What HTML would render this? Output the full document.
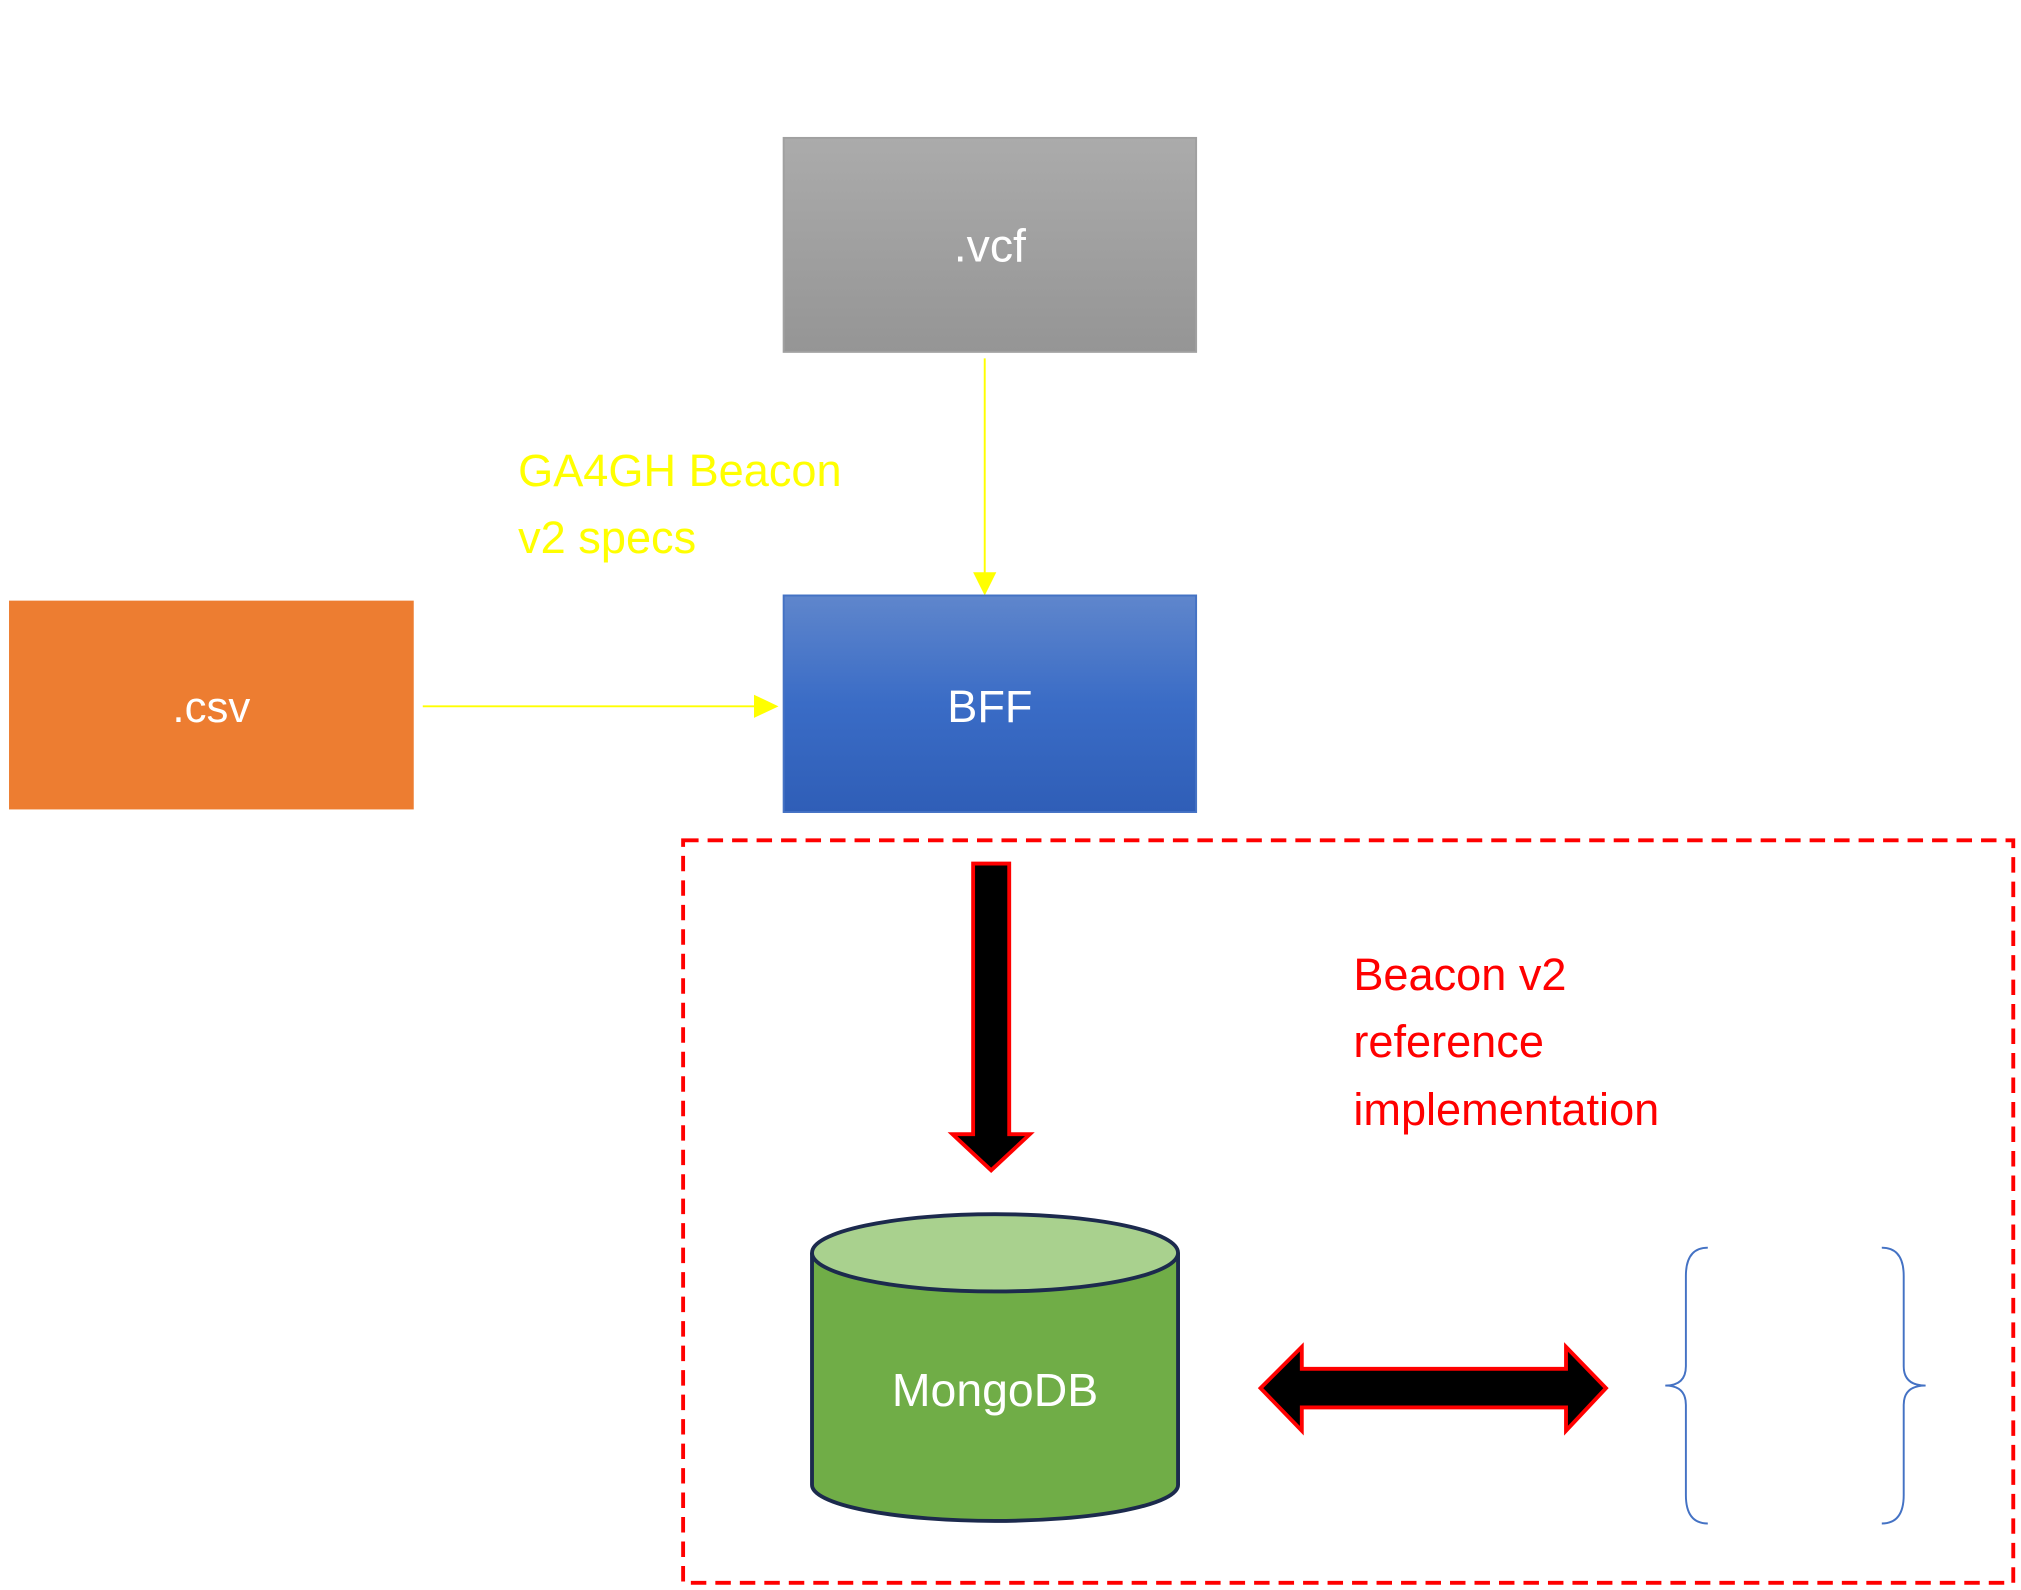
<!DOCTYPE html>
<html><head><meta charset="utf-8"><style>
html,body{margin:0;padding:0;background:#fff;width:2021px;height:1590px;overflow:hidden}
svg{display:block}
text{font-family:"Liberation Sans","DejaVu Sans",sans-serif}
</style></head><body>
<svg width="2021" height="1590" viewBox="0 0 1568 1233.6" xmlns="http://www.w3.org/2000/svg">
<defs>
<linearGradient id="g1" x1="0" y1="0" x2="0" y2="1"><stop offset="0" stop-color="#ababab"/><stop offset="1" stop-color="#959595"/></linearGradient>
<linearGradient id="g2" x1="0" y1="0" x2="0" y2="1"><stop offset="0" stop-color="#5f86cc"/><stop offset="0.5" stop-color="#3a6cc6"/><stop offset="1" stop-color="#2f5eb7"/></linearGradient>
</defs>
<rect x="608" y="107" width="320" height="166" fill="url(#g1)" stroke="#a0a0a0" stroke-width="1.5"/>
<text x="768" y="203" font-size="36" fill="#fff" text-anchor="middle">.vcf</text>
<line x1="764" y1="278" x2="764" y2="446" stroke="#ffff00" stroke-width="1.5"/>
<polygon points="755,444 773,444 764,462" fill="#ffff00"/>
<text x="402" y="377" font-size="35" fill="#ffff00">GA4GH Beacon</text>
<text x="402" y="429" font-size="35" fill="#ffff00">v2 specs</text>
<rect x="7" y="466" width="314" height="162" fill="#ed7d31"/>
<text x="164" y="560" font-size="34" fill="#fff" text-anchor="middle">.csv</text>
<line x1="328" y1="548" x2="588" y2="548" stroke="#ffff00" stroke-width="1.5"/>
<polygon points="585,539 585,557 604,548" fill="#ffff00"/>
<rect x="608" y="462" width="320" height="168" fill="url(#g2)" stroke="#4472c4" stroke-width="1.5"/>
<text x="768" y="560" font-size="35" fill="#fff" text-anchor="middle">BFF</text>
<rect x="530" y="652" width="1032" height="576" fill="none" stroke="#ff0000" stroke-width="3" stroke-dasharray="12,7"/>
<polygon points="755,670 783,670 783,880 799,880 769,908 739,880 755,880" fill="#000" stroke="#ff0000" stroke-width="3"/>
<path d="M630,972 L630,1152 A142,28 0 0 0 914,1152 L914,972" fill="#70ad47" stroke="#1c2a4d" stroke-width="3"/>
<ellipse cx="772" cy="972" rx="142" ry="30" fill="#a9d18e" stroke="#1c2a4d" stroke-width="3"/>
<text x="772" y="1091" font-size="36" fill="#fff" text-anchor="middle">MongoDB</text>
<polygon points="978,1077 1010,1045 1010,1062 1215,1062 1215,1045 1246,1077 1215,1110 1215,1092 1010,1092 1010,1110" fill="#000" stroke="#ff0000" stroke-width="3"/>
<path d="M1325,968 Q1308,968 1308,990 L1308,1060 Q1308,1075 1292,1075 Q1308,1075 1308,1090 L1308,1160 Q1308,1182 1325,1182" fill="none" stroke="#4472c4" stroke-width="1.5"/>
<path d="M1460,968 Q1477,968 1477,990 L1477,1060 Q1477,1075 1494,1075 Q1477,1075 1477,1090 L1477,1160 Q1477,1182 1460,1182" fill="none" stroke="#4472c4" stroke-width="1.5"/>
<text x="1050" y="768" font-size="35" fill="#ff0000">Beacon v2</text>
<text x="1050" y="820" font-size="35" fill="#ff0000">reference</text>
<text x="1050" y="873" font-size="35" fill="#ff0000">implementation</text>
</svg>
</body></html>
